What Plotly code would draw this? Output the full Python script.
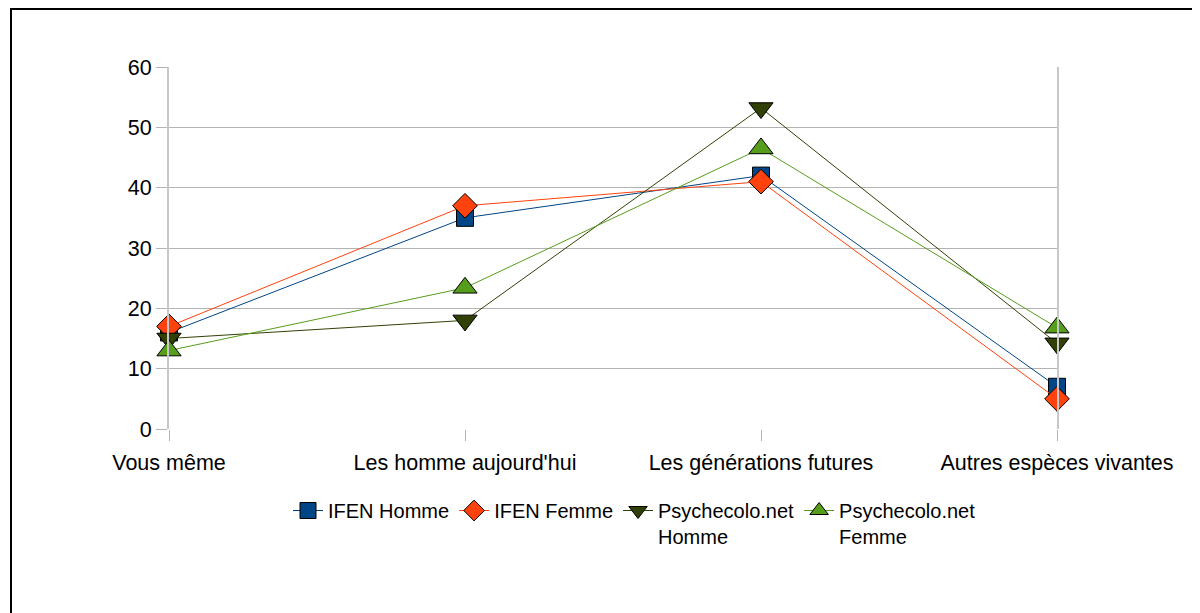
import plotly.graph_objects as go

categories = ["Vous même", "Les homme aujourd'hui", "Les générations futures", "Autres espèces vivantes"]
ifen_homme = [16, 35, 42, 7]
ifen_femme = [17, 37, 41, 5]
psy_homme = [15, 18, 53.2, 14.2]
psy_femme = [13, 23.4, 46.5, 16.8]
y_ticks = [0, 10, 20, 30, 40, 50, 60]

series = [
    ("IFEN Homme", ifen_homme, "#004586", "square", 17),
    ("IFEN Femme", ifen_femme, "#ff420e", "diamond", 19),
    ("Psychecolo.net<br>Homme", psy_homme, "#314004", "triangle-down", 21),
    ("Psychecolo.net<br>Femme", psy_femme, "#579d1c", "triangle-up", 21),
]

fig = go.Figure()
for name, vals, color, sym, sz in series:
    fig.add_trace(go.Scatter(
        x=categories, y=vals, name=name, mode="lines+markers",
        line=dict(color=color, width=1),
        marker=dict(symbol=sym, size=sz, color=color,
                    line=dict(color="#000000", width=1)),
        cliponaxis=False,
    ))

FONT = "Liberation Sans, Arial, sans-serif"
OFF = 8  # page body margin
W, H = 1200 - OFF, 613 - OFF
L, T = 169 - OFF, 67 - OFF
R = W - (1057 - OFF)
B = H - (429 - OFF)
pw, ph = W - L - R, H - T - B

def px_x(x):
    return (x - OFF - L) / pw

def px_y(y):
    return (H - B - (y - OFF)) / ph

fig.update_layout(
    width=W, height=H,
    margin=dict(l=L, r=R, t=T, b=B),
    paper_bgcolor="white", plot_bgcolor="white",
    font=dict(family=FONT, size=21, color="#000000"),
    xaxis=dict(
        type="category", range=[0, 3], showgrid=False, zeroline=False,
        showline=False, ticks="outside", ticklen=11, tickcolor="#b3b3b3",
        tickwidth=1, tickfont=dict(size=21.5, family=FONT), ticklabelstandoff=3,
    ),
    yaxis=dict(
        range=[0, 60], tickvals=y_ticks, showgrid=True, gridcolor="#b3b3b3",
        gridwidth=1, zeroline=False, showline=True, linecolor="#c8c8c8",
        linewidth=2, mirror=True, ticks="outside", ticklen=11,
        tickcolor="#b3b3b3", tickfont=dict(size=21.5, family=FONT),
    ),
    legend=dict(
        orientation="h", x=px_x(288), xanchor="left",
        y=px_y(491), yanchor="top", valign="top",
        font=dict(size=20, family=FONT), itemwidth=30,
        tracegroupgap=0, bgcolor="rgba(0,0,0,0)",
    ),
    showlegend=True,
    shapes=[dict(
        type="rect", xref="paper", yref="paper",
        x0=px_x(11), x1=px_x(1197),
        y0=px_y(640), y1=px_y(9),
        line=dict(color="#000000", width=2), fillcolor="rgba(0,0,0,0)",
        layer="below",
    )],
)

fig.write_html("out.html")
